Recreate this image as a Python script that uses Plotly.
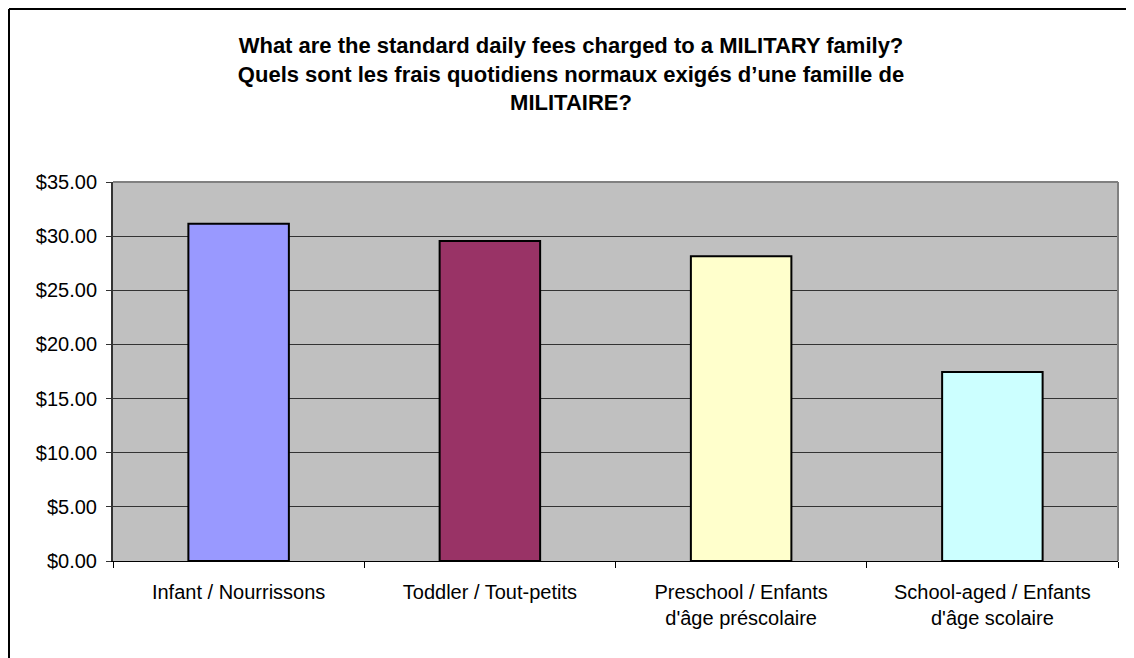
import plotly.graph_objects as go

categories = ["Infant / Nourrissons", "Toddler / Tout-petits",
              "Preschool / Enfants<br>d'âge préscolaire",
              "School-aged / Enfants<br>d'âge scolaire"]
fees = [31.15, 29.55, 28.15, 17.45]
bar_colors = ["#9999FF", "#993366", "#FFFFCC", "#CCFFFF"]
y_ticks = [0, 5, 10, 15, 20, 25, 30, 35]
y_tick_labels = ["$%.2f" % v for v in y_ticks]

title_text = ("What are the standard daily fees charged to a MILITARY family?<br>"
              "Quels sont les frais quotidiens normaux exigés d’une famille de<br>"
              "MILITAIRE?")

font_family = "Liberation Sans, Arial, sans-serif"

fig = go.Figure(go.Bar(
    x=categories, y=fees,
    marker=dict(color=bar_colors, line=dict(color="black", width=2)),
    width=0.4,
))

# page has an 8px body margin, figure sized to fit the window
W, H = 1126, 650
L, R, T, B = 105, 16, 174, 97

fig.update_layout(
    width=W, height=H,
    margin=dict(l=L, r=R, t=T, b=B, pad=0),
    paper_bgcolor="white",
    plot_bgcolor="#C0C0C0",
    showlegend=False,
    font=dict(family=font_family, size=20, color="black"),
    title=dict(text=title_text, x=563 / W, xanchor="center",
               y=1 - 45 / H, yanchor="top", yref="container",
               font=dict(family=font_family, size=22, color="black",
                         weight="bold")),
    xaxis=dict(showline=True, linecolor="black", linewidth=1,
               ticks="outside", tickson="boundaries", ticklen=6,
               tickcolor="black", showgrid=False,
               ticklabelstandoff=13,
               tickfont=dict(size=20)),
    yaxis=dict(range=[0, 35], tickvals=y_ticks, ticktext=y_tick_labels,
               showline=True, linecolor="#333333", linewidth=2,
               ticks="outside", ticklen=5, tickcolor="#333333",
               gridcolor="#333333", gridwidth=1,
               ticklabelstandoff=5,
               zeroline=False, tickfont=dict(size=20)),
    bargap=0.6,
    shapes=[
        # plot area top / right border
        dict(type="line", xref="paper", yref="paper", x0=0, x1=1, y0=1, y1=1,
             line=dict(color="#808080", width=2)),
        dict(type="line", xref="paper", yref="paper", x0=1, x1=1, y0=0, y1=1,
             line=dict(color="#808080", width=2)),
        # chart area border (left and top edges of the figure)
        dict(type="line", xref="paper", yref="paper",
             x0=(1 - L) / (W - L - R), x1=(1 - L) / (W - L - R),
             y0=-B / (H - T - B), y1=(H - B - 1) / (H - T - B),
             line=dict(color="black", width=2)),
        dict(type="line", xref="paper", yref="paper",
             x0=(1 - L) / (W - L - R), x1=(W - L) / (W - L - R),
             y0=(H - B - 1) / (H - T - B), y1=(H - B - 1) / (H - T - B),
             line=dict(color="black", width=2)),
    ],
)

fig.write_html("out.html")
